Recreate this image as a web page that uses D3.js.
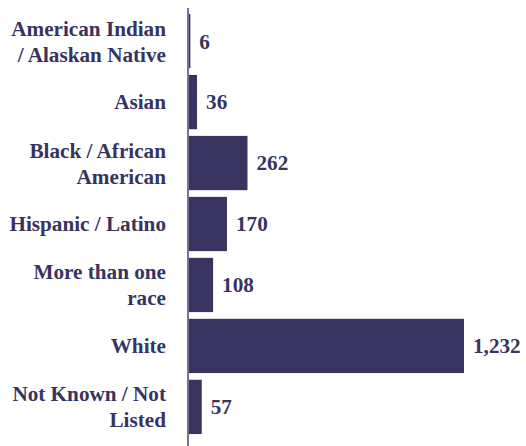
<!DOCTYPE html>
<html>
<head>
<meta charset="utf-8">
<script src="https://cdn.jsdelivr.net/npm/d3@7"></script>
<style>
  html, body { margin: 0; padding: 0; background: #ffffff; }
  svg { display: block; }
  text { font-family: "Liberation Serif", "DejaVu Serif", serif; font-weight: bold; fill: #38335f; }
</style>
</head>
<body>
<svg id="chart" width="526" height="446"></svg>
<script>
// Enrollment by race / ethnicity
const categories = [
  "American Indian / Alaskan Native",
  "Asian",
  "Black / African American",
  "Hispanic / Latino",
  "More than one race",
  "White",
  "Not Known / Not Listed"
];
// Wrapped label lines for each category
const labelLines = [
  ["American Indian", "/ Alaskan Native"],
  ["Asian"],
  ["Black / African", "American"],
  ["Hispanic / Latino"],
  ["More than one", "race"],
  ["White"],
  ["Not Known / Not", "Listed"]
];
const values = [6, 36, 262, 170, 108, 1232, 57];

const barColor = "#38335f";
const axisColor = "#77709a";
const fontSize = 21.2;
const lineHeight = 26;

const svg = d3.select("#chart");

const x = d3.scaleLinear()
  .domain([0, d3.max(values)])
  .range([189, 464]);

const y = d3.scaleBand()
  .domain(categories)
  .range([10.6, 437.4])
  .paddingInner(0.11)
  .paddingOuter(0.055);

// Bars
svg.append("g")
  .selectAll("rect")
  .data(categories)
  .join("rect")
  .attr("x", x(0))
  .attr("y", d => y(d))
  .attr("width", (d, i) => x(values[i]) - x(0))
  .attr("height", y.bandwidth())
  .attr("fill", barColor);

// Vertical category axis line
svg.append("line")
  .attr("x1", 188).attr("x2", 188)
  .attr("y1", 8).attr("y2", 446)
  .attr("stroke", axisColor)
  .attr("stroke-width", 2);

// Category labels (right aligned, possibly two lines)
const labels = svg.append("g")
  .selectAll("text")
  .data(categories)
  .join("text")
  .attr("text-anchor", "end")
  .style("font-size", fontSize + "px");

labels.each(function (d, i) {
  const lines = labelLines[i];
  const cy = y(d) + y.bandwidth() / 2;
  const first = lines.length === 1 ? cy + 0.35 * fontSize : cy - 5.5;
  d3.select(this).selectAll("tspan")
    .data(lines)
    .join("tspan")
    .attr("x", 166)
    .attr("y", (l, k) => first + k * lineHeight)
    .text(l => l);
});

// Value labels
const fmt = d3.format(",");
svg.append("g")
  .selectAll("text")
  .data(categories)
  .join("text")
  .attr("x", (d, i) => x(values[i]) + 9)
  .attr("y", d => y(d) + y.bandwidth() / 2)
  .attr("dy", "0.35em")
  .style("font-size", fontSize + "px")
  .text((d, i) => fmt(values[i]));
</script>
</body>
</html>
